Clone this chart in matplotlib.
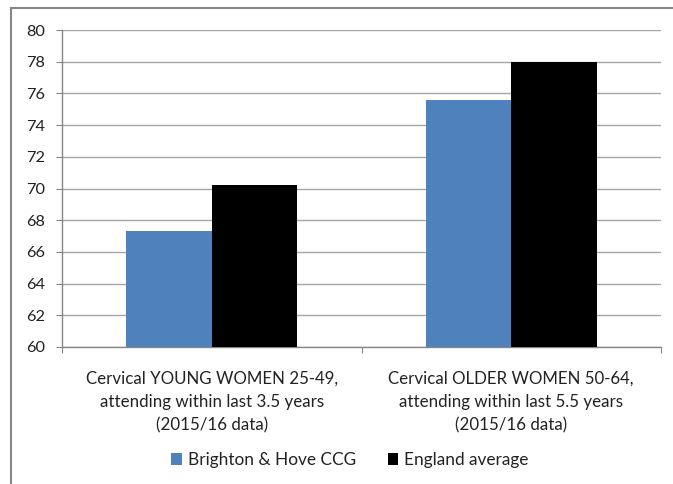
import matplotlib
matplotlib.use("Agg")
import matplotlib.pyplot as plt
from matplotlib.lines import Line2D
import numpy as np

categories = ["Cervical YOUNG WOMEN 25-49,\nattending within last 3.5 years\n(2015/16 data)",
              "Cervical OLDER WOMEN 50-64,\nattending within last 5.5 years\n(2015/16 data)"]
series_names = ["Brighton & Hove CCG", "England average"]
brighton = [67.3, 75.6]
england = [70.2, 78.0]
yticks = [60, 62, 64, 66, 68, 70, 72, 74, 76, 78, 80]

plt.rcParams['font.family'] = ['Lato', 'DejaVu Sans']

fig = plt.figure(figsize=(6.73, 4.84), dpi=100)
ax = fig.add_axes([62/673, 1-347/484, (661-62)/673, (347-30)/484])

x = np.arange(len(categories))
w = 0.285
ax.bar(x - w/2, brighton, w, color="#4f81bd", label=series_names[0], zorder=3)
ax.bar(x + w/2, england, w, color="#000000", label=series_names[1], zorder=3)

ax.set_ylim(60, 80)
ax.set_xlim(-0.5, 1.5)
ax.set_yticks(yticks)
ax.set_yticklabels([str(t) for t in yticks], fontsize=11.8, color="#222222")
ax.yaxis.grid(True, color="#a6a6a6", linewidth=1.0, zorder=0)
ax.set_axisbelow(True)

ax.set_xticks([-0.5, 0.5, 1.5])
ax.set_xticklabels(["", "", ""])
ax.set_xticks(x, minor=True)
ax.set_xticklabels(categories, minor=True, fontsize=12.2, color="#222222", linespacing=1.55)
ax.tick_params(axis='x', which='minor', length=0, pad=17)
ax.tick_params(axis='x', which='major', length=4.3, color="#868686", direction='out')
ax.tick_params(axis='y', length=4.3, color="#868686", direction='out', pad=8)

for s in ["top", "right"]:
    ax.spines[s].set_visible(False)
for s in ["left", "bottom"]:
    ax.spines[s].set_color("#868686")
    ax.spines[s].set_linewidth(1.0)

leg = fig.legend(loc="center", bbox_to_anchor=(350/673, 1-460/484), ncol=2, frameon=False,
                 fontsize=12.4, handlelength=0.62, handleheight=0.62, handletextpad=0.35,
                 columnspacing=1.84)
for t in leg.get_texts():
    t.set_color("#222222")

# outer chart frame (partially visible)
fig.add_artist(Line2D([11.5/673, 11.5/673], [0, 1-7.5/484], transform=fig.transFigure,
                      color="#868686", linewidth=1.5))
fig.add_artist(Line2D([11.5/673, 1.0], [1-7.5/484, 1-7.5/484], transform=fig.transFigure,
                      color="#868686", linewidth=1.5))

fig.savefig("out.png", dpi=100)
